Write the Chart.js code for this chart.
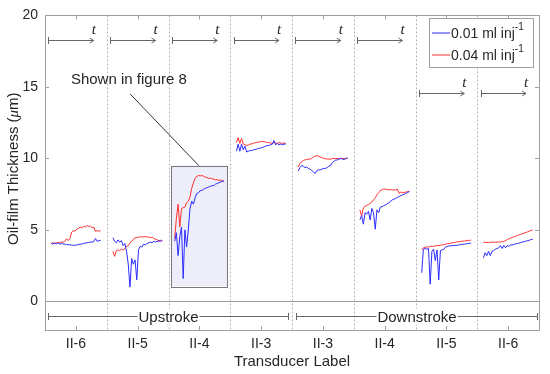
<!DOCTYPE html>
<html>
<head>
<meta charset="utf-8">
<script src="https://cdn.jsdelivr.net/npm/chart.js@4.4.0/dist/chart.umd.min.js"></script>
<style>
  html, body { margin: 0; padding: 0; background: #fff; }
  #wrap { width: 550px; height: 374px; }
</style>
</head>
<body>
<div id="wrap"><canvas id="oilChart" width="550" height="374"></canvas></div>
<script>
// --- DATA ---
const transducerLabels = ['II-6', 'II-5', 'II-4', 'II-3', 'II-3', 'II-4', 'II-5', 'II-6'];
const yTickValues = [0, 5, 10, 15, 20];
const seriesNames = ['0.01 ml inj', '0.04 ml inj'];
const seriesColors = ['#2b2bff', '#ff3030'];

// 0.01 ml inj-1, one list per transducer segment (time runs left to right)
const film001 = [
  [4.06,4.0,4.08,4.02,4.1,4.0,4.05,4.02,4.0,3.98,3.96,3.95,3.94,3.92,3.93,3.95,3.97,4.0,4.02,4.05,4.08,4.1,4.12,4.15,4.15,4.18,4.4,4.2,4.25,4.27],
  [4.45,4.2,4.1,4.3,4.15,4.25,3.9,4.05,3.5,2.6,1.0,3.0,2.6,2.9,1.5,3.6,3.85,3.8,4.0,3.95,4.05,4.1,4.15,4.1,4.2,4.15,4.2,4.22,4.2,4.27],
  [4.2,4.8,3.2,4.5,5.2,1.6,5.0,3.8,5.0,6.5,7.0,6.8,7.25,7.55,7.6,7.75,7.75,7.85,7.9,7.95,8.0,8.05,8.1,8.1,8.2,8.25,8.3,8.35,8.4,8.42],
  [10.5,11.0,10.5,11.0,10.6,10.85,10.45,10.5,10.55,10.55,10.6,10.62,10.65,10.7,10.72,10.75,10.8,10.85,10.9,10.9,10.95,10.98,11.25,10.95,11.05,10.95,11.0,10.95,11.0,11.0],
  [9.1,9.35,9.5,9.45,9.35,9.4,9.3,9.25,9.15,9.05,8.95,9.15,9.2,9.2,9.25,9.3,9.3,9.35,9.45,9.5,9.7,9.8,9.88,9.9,9.95,10.0,9.95,9.92,10.0,10.03],
  [5.7,6.0,5.4,6.2,6.1,6.3,5.7,6.5,6.2,5.05,6.4,6.2,6.6,6.62,6.7,6.75,6.82,6.9,7.0,7.1,7.15,7.2,7.28,7.33,7.4,7.45,7.5,7.56,7.62,7.68],
  [2.0,3.65,3.7,3.65,3.7,1.2,3.5,3.65,2.85,3.6,1.5,3.55,3.6,3.65,3.8,3.85,3.88,3.88,3.9,3.9,3.92,3.93,3.95,3.97,4.0,4.0,4.02,4.05,4.06,4.08],
  [3.05,3.4,3.2,3.5,3.2,3.5,3.55,3.65,3.7,3.75,3.9,3.7,3.92,3.75,3.9,3.85,3.95,3.95,4.0,4.02,4.05,4.08,4.12,4.15,4.18,4.22,4.25,4.28,4.32,4.35]
];

// 0.04 ml inj-1
const film004 = [
  [4.06,4.1,4.05,4.1,4.12,4.1,4.15,4.15,4.2,4.38,4.25,4.4,4.85,4.95,4.9,5.05,5.1,5.2,5.15,5.25,5.2,5.3,5.25,5.28,5.15,5.2,4.9,4.95,4.9,4.95],
  [3.5,3.15,3.55,3.6,3.55,3.65,3.6,3.7,3.85,3.9,4.1,4.2,4.35,4.45,4.45,4.5,4.5,4.52,4.5,4.55,4.5,4.5,4.45,4.5,4.4,4.35,4.3,4.25,4.28,4.25],
  [4.4,5.8,6.8,5.2,6.5,6.55,6.6,6.9,7.0,7.3,7.9,8.3,8.6,8.75,8.8,8.78,8.8,8.75,8.7,8.65,8.6,8.62,8.58,8.55,8.5,8.52,8.45,8.5,8.4,8.45],
  [11.1,11.45,11.05,11.4,11.0,10.95,10.9,10.95,11.0,11.02,11.05,11.1,11.12,11.15,11.15,11.2,11.18,11.15,11.12,11.1,11.08,11.05,11.1,11.08,11.05,11.1,11.08,11.05,11.08,11.05],
  [9.4,9.65,9.75,9.85,9.9,9.92,9.95,9.95,10.0,10.1,10.15,10.2,10.15,10.1,10.05,10.0,9.98,9.95,9.95,9.95,9.98,10.0,9.98,10.0,9.98,10.0,9.98,10.0,9.98,10.0],
  [6.4,5.95,6.55,6.65,6.7,6.78,6.85,6.95,7.1,7.25,7.45,7.6,7.75,7.8,7.85,7.85,7.82,7.8,7.82,7.8,7.78,7.8,7.85,7.55,7.65,7.6,7.62,7.65,7.68,7.7],
  [3.6,3.75,3.78,3.82,3.8,3.84,3.86,3.85,3.88,3.91,3.9,3.93,3.96,3.95,4.0,4.04,4.03,4.07,4.1,4.11,4.14,4.17,4.16,4.2,4.22,4.21,4.25,4.27,4.26,4.3],
  [4.15,4.12,4.13,4.11,4.14,4.13,4.15,4.13,4.15,4.16,4.15,4.18,4.2,4.25,4.32,4.38,4.42,4.48,4.52,4.56,4.6,4.65,4.7,4.74,4.78,4.82,4.87,4.92,4.96,5.0]
];

// time-arrow height (um) per segment
const arrowLevels = [18.3, 18.3, 18.3, 18.3, 18.3, 18.3, 14.6, 14.6];

// place each segment's samples inside its slot on the x axis
function toPoints(segments) {
    const pts = [];
    segments.forEach((vals, s) => {
        vals.forEach((v, i) => {
            pts.push({ x: s + 0.1 + 0.8 * i / (vals.length - 1), y: v });
        });
        pts.push({ x: s + 0.95, y: null });
    });
    return pts;
}

const AXIS_GRAY = '#a0a0a0';
const TEXT = '#262626';

const overlayPlugin = {
    id: 'overlay',
    beforeDatasetsDraw(chart) {
        const { ctx, chartArea: a, scales: { x, y } } = chart;
        ctx.save();
        // highlighted box "Shown in figure 8"
        const bx0 = x.getPixelForValue(2.04), bx1 = x.getPixelForValue(2.95);
        const by0 = y.getPixelForValue(9.5), by1 = y.getPixelForValue(1.05);
        ctx.fillStyle = '#eeeefb';
        ctx.fillRect(bx0, by0, bx1 - bx0, by1 - by0);
        ctx.strokeStyle = '#7a7a7a';
        ctx.lineWidth = 1;
        ctx.strokeRect(Math.round(bx0) + 0.5, Math.round(by0) + 0.5, Math.round(bx1 - bx0), Math.round(by1 - by0));
        // segment separators
        ctx.strokeStyle = '#b4b4b4';
        ctx.setLineDash([2, 2]);
        for (let k = 1; k < transducerLabels.length; k++) {
            const px = Math.round(x.getPixelForValue(k)) + 0.5;
            ctx.beginPath(); ctx.moveTo(px, a.top); ctx.lineTo(px, a.bottom); ctx.stroke();
        }
        ctx.setLineDash([]);
        // zero line
        const y0 = Math.round(y.getPixelForValue(0)) + 0.5;
        ctx.strokeStyle = AXIS_GRAY;
        ctx.beginPath(); ctx.moveTo(a.left, y0); ctx.lineTo(a.right, y0); ctx.stroke();
        ctx.restore();
    },
    afterDatasetsDraw(chart) {
        const { ctx, chartArea: a, scales: { x, y } } = chart;
        ctx.save();
        ctx.lineWidth = 1;

        // axes box + inward ticks
        ctx.strokeStyle = AXIS_GRAY;
        ctx.strokeRect(Math.round(a.left) + 0.5, Math.round(a.top) + 0.5, Math.round(a.right - a.left), Math.round(a.bottom - a.top));
        ctx.beginPath();
        transducerLabels.forEach((_, i) => {
            const px = Math.round(x.getPixelForValue(i + 0.5)) + 0.5;
            ctx.moveTo(px, a.bottom); ctx.lineTo(px, a.bottom - 4);
            ctx.moveTo(px, a.top); ctx.lineTo(px, a.top + 4);
        });
        yTickValues.forEach(v => {
            const py = Math.round(y.getPixelForValue(v)) + 0.5;
            ctx.moveTo(a.left, py); ctx.lineTo(a.left + 4, py);
            ctx.moveTo(a.right, py); ctx.lineTo(a.right - 4, py);
        });
        ctx.stroke();

        // y axis title, with italic mu
        ctx.save();
        ctx.translate(14, (a.top + a.bottom) / 2 - 4);
        ctx.rotate(-Math.PI / 2);
        ctx.fillStyle = TEXT;
        ctx.textBaseline = 'middle';
        ctx.textAlign = 'left';
        const parts = [['Oil-film Thickness (', '15px "Liberation Sans"'], ['μ', 'italic 15px "Liberation Serif"'], ['m)', '15px "Liberation Sans"']];
        let total = 0;
        parts.forEach(p => { ctx.font = p[1]; total += ctx.measureText(p[0]).width; });
        let tx = -total / 2;
        parts.forEach(p => { ctx.font = p[1]; ctx.fillText(p[0], tx, 0); tx += ctx.measureText(p[0]).width; });
        ctx.restore();

        // time arrows
        ctx.strokeStyle = '#666';
        ctx.fillStyle = TEXT;
        arrowLevels.forEach((lvl, s) => {
            const x0 = Math.round(x.getPixelForValue(s + 0.055)) + 0.5;
            const x1 = x.getPixelForValue(s + 0.79);
            const py = Math.round(y.getPixelForValue(lvl)) + 0.5;
            ctx.beginPath();
            ctx.moveTo(x0, py - 3.5); ctx.lineTo(x0, py + 3.5);
            ctx.moveTo(x0, py); ctx.lineTo(x1, py);
            ctx.moveTo(x1 - 4, py - 2.5); ctx.lineTo(x1, py); ctx.lineTo(x1 - 4, py + 2.5);
            ctx.stroke();
            ctx.font = 'italic 15px "Liberation Serif"';
            ctx.textAlign = 'center';
            ctx.textBaseline = 'middle';
            ctx.fillText('t', x1, py - 10);
        });

        // stroke brackets
        const bracket = (v0, v1, label) => {
            const x0 = Math.round(x.getPixelForValue(v0)) + 0.5;
            const x1 = Math.round(x.getPixelForValue(v1)) + 0.5;
            const py = Math.round(y.getPixelForValue(-1)) + 0.5;
            ctx.strokeStyle = '#666';
            ctx.beginPath();
            ctx.moveTo(x0, py - 3.5); ctx.lineTo(x0, py + 3.5);
            ctx.moveTo(x1, py - 3.5); ctx.lineTo(x1, py + 3.5);
            ctx.moveTo(x0, py); ctx.lineTo(x1, py);
            ctx.stroke();
            ctx.font = '15px "Liberation Sans"';
            const w = ctx.measureText(label).width;
            const cx = (x0 + x1) / 2;
            ctx.fillStyle = '#fff';
            ctx.fillRect(cx - w / 2 - 1, py - 8, w + 2, 16);
            ctx.fillStyle = TEXT;
            ctx.textAlign = 'center';
            ctx.textBaseline = 'middle';
            ctx.fillText(label, cx, py + 1);
        };
        bracket(0.05, 3.94, 'Upstroke');
        bracket(4.06, 7.96, 'Downstroke');

        // annotation text and leader
        ctx.strokeStyle = '#333';
        ctx.beginPath();
        ctx.moveTo(x.getPixelForValue(1.38), y.getPixelForValue(14.5));
        ctx.lineTo(x.getPixelForValue(2.49), y.getPixelForValue(9.5));
        ctx.stroke();
        ctx.fillStyle = TEXT;
        ctx.font = '15px "Liberation Sans"';
        ctx.textAlign = 'left';
        ctx.textBaseline = 'middle';
        ctx.fillText('Shown in figure 8', x.getPixelForValue(0.42), y.getPixelForValue(15.5));

        // legend
        const lx = 429, ly = 18, lw = 104, lh = 49;
        ctx.fillStyle = '#fff';
        ctx.fillRect(lx, ly, lw, lh);
        ctx.strokeStyle = AXIS_GRAY;
        ctx.strokeRect(lx + 0.5, ly + 0.5, lw, lh);
        seriesNames.forEach((name, i) => {
            const ry = ly + 15 + i * 22;
            ctx.strokeStyle = seriesColors[i];
            ctx.lineWidth = 1;
            ctx.beginPath(); ctx.moveTo(lx + 3, ry); ctx.lineTo(lx + 21, ry); ctx.stroke();
            ctx.fillStyle = TEXT;
            ctx.font = '14px "Liberation Sans"';
            ctx.textAlign = 'left';
            ctx.textBaseline = 'middle';
            ctx.fillText(name, lx + 22, ry + 1);
            const tw = ctx.measureText(name).width;
            ctx.font = '10px "Liberation Sans"';
            ctx.fillText('-1', lx + 22 + tw, ry - 6);
        });
        ctx.restore();
    }
};

const ctx = document.getElementById('oilChart').getContext('2d');
new Chart(ctx, {
    type: 'line',
    data: {
        datasets: [{
            label: '0.01 ml inj-1',
            data: toPoints(film001),
            borderColor: seriesColors[0], borderWidth: 1, pointRadius: 0, tension: 0, spanGaps: false
        }, {
            label: '0.04 ml inj-1',
            data: toPoints(film004),
            borderColor: seriesColors[1], borderWidth: 1, pointRadius: 0, tension: 0, spanGaps: false
        }]
    },
    options: {
        responsive: false, animation: false, devicePixelRatio: 1,
        layout: { padding: { left: 0, right: 11, top: 12, bottom: 0 } },
        scales: {
            x: {
                type: 'linear', min: 0, max: 8,
                grid: { display: false, drawTicks: false }, border: { display: false },
                afterBuildTicks: (s) => { s.ticks = transducerLabels.map((_, i) => ({ value: i + 0.5 })); },
                afterFit: (s) => { s.height = 44; },
                ticks: {
                    autoSkip: false, maxRotation: 0, padding: 6, color: TEXT,
                    font: { family: 'Liberation Sans', size: 14 },
                    callback: (v) => transducerLabels[Math.floor(v)]
                },
                title: { display: true, text: 'Transducer Label', color: TEXT, padding: { top: 0, bottom: 3 },
                    font: { family: 'Liberation Sans', size: 15 } }
            },
            y: {
                min: -2, max: 20,
                grid: { display: false, drawTicks: false }, border: { display: false },
                afterBuildTicks: (s) => { s.ticks = yTickValues.map(v => ({ value: v })); },
                afterFit: (s) => { s.width = 45; },
                ticks: { padding: 7, color: TEXT, font: { family: 'Liberation Sans', size: 14 } },
                title: { display: false }
            }
        },
        plugins: { legend: { display: false }, tooltip: { enabled: false } }
    },
    plugins: [overlayPlugin]
});
</script>
</body>
</html>
